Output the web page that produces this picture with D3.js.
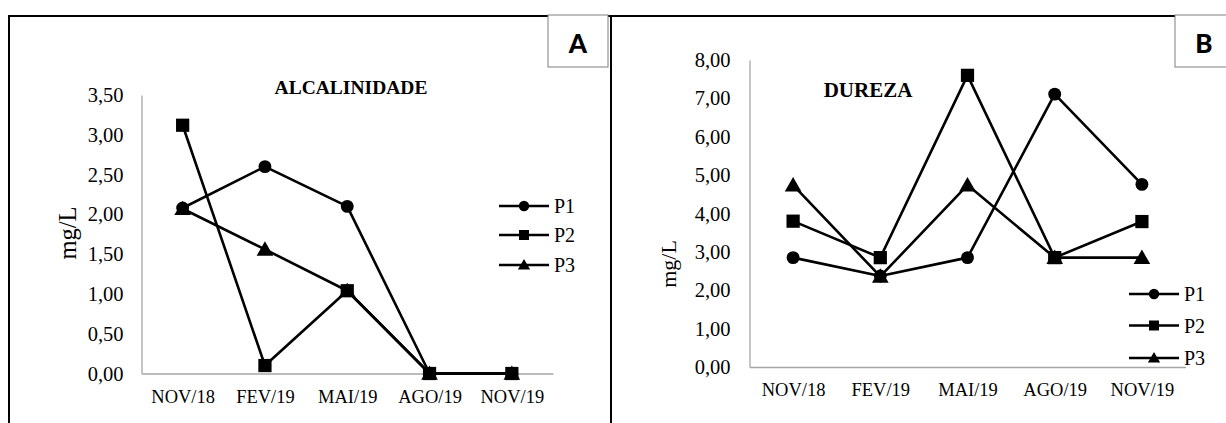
<!DOCTYPE html>
<html>
<head>
<meta charset="utf-8">
<script src="https://cdn.jsdelivr.net/npm/d3@7/dist/d3.min.js"></script>
<style>
  html, body { margin: 0; padding: 0; background: #fff; }
  svg { display: block; }
</style>
</head>
<body>
<svg id="fig" width="1226" height="423"></svg>
<script>
// Sampling campaigns
const months = ["NOV/18", "FEV/19", "MAI/19", "AGO/19", "NOV/19"];
const seriesNames = ["P1", "P2", "P3"];

// Alkalinity (mg/L) per sampling point
const alcP1 = [2.08, 2.60, 2.10, 0.00, 0.00];
const alcP2 = [3.12, 0.10, 1.04, 0.00, 0.00];
const alcP3 = [2.07, 1.56, 1.04, 0.00, 0.00];
const alcTicks = [0, 0.5, 1, 1.5, 2, 2.5, 3, 3.5];

// Hardness (mg/L) per sampling point
const durP1 = [2.85, 2.37, 2.85, 7.11, 4.76];
const durP2 = [3.80, 2.85, 7.60, 2.85, 3.79];
const durP3 = [4.74, 2.36, 4.74, 2.85, 2.85];
const durTicks = [0, 1, 2, 3, 4, 5, 6, 7, 8];

const ptBR = d3.formatLocale({ decimal: ",", thousands: ".", grouping: [3], currency: ["R$", ""] });
const fmt = ptBR.format(".2f");

const svg = d3.select("#fig");
svg.append("rect").attr("width", 1226).attr("height", 423).attr("fill", "#fff");

const serif = "'Liberation Serif', 'Times New Roman', serif";
const markerTypes = [d3.symbolCircle, d3.symbolSquare, d3.symbolTriangle];

// Figure frame
const frame = svg.append("g").attr("stroke", "#000").attr("stroke-width", 2).attr("fill", "none");
frame.append("line").attr("x1", 8).attr("x2", 1176).attr("y1", 16).attr("y2", 16);
frame.append("line").attr("x1", 9).attr("x2", 9).attr("y1", 15).attr("y2", 423);
frame.append("line").attr("x1", 611).attr("x2", 611).attr("y1", 15).attr("y2", 423);

function drawPanel(cfg) {
  const g = svg.append("g");
  const x = d3.scalePoint().domain(months).range([cfg.x0, cfg.x1]).padding(0.5);
  const y = d3.scaleLinear().domain([0, cfg.ymax]).range([cfg.yBottom, cfg.yTop]);

  // Axes
  const yAxis = g.append("g")
    .attr("transform", `translate(${cfg.x0},0)`)
    .call(d3.axisLeft(y).tickValues(cfg.ticks).tickFormat(fmt).tickSize(0).tickPadding(cfg.yPad));
  const xAxis = g.append("g")
    .attr("transform", `translate(0,${cfg.yBottom})`)
    .call(d3.axisBottom(x).tickSize(0).tickPadding(16));
  [yAxis, xAxis].forEach(a => {
    a.attr("font-size", null).attr("font-family", null);
    a.select(".domain").attr("stroke", "#a6a6a6").attr("stroke-width", 1.3);
  });
  yAxis.selectAll("text").attr("font-family", serif).attr("font-size", cfg.yTickFont).attr("fill", "#000");
  xAxis.selectAll("text").attr("font-family", serif).attr("font-size", cfg.xTickFont).attr("fill", "#000");

  // Y-axis title
  g.append("text")
    .attr("transform", `translate(${cfg.yTitleX},${cfg.yTitleY}) rotate(-90)`)
    .attr("text-anchor", "middle")
    .attr("font-family", serif).attr("font-size", cfg.yTitleFont)
    .text("mg/L");

  // Chart title
  g.append("text")
    .attr("x", cfg.titleX).attr("y", cfg.titleY)
    .attr("text-anchor", "middle")
    .attr("font-family", serif).attr("font-size", cfg.titleFont).attr("font-weight", "bold")
    .text(cfg.title);

  // Series
  const line = d3.line().x((d, i) => x(months[i])).y(d => y(d));
  cfg.series.forEach((vals, si) => {
    g.append("path").datum(vals)
      .attr("d", line)
      .attr("fill", "none").attr("stroke", "#000").attr("stroke-width", 2.6)
      .attr("stroke-linejoin", "round");
    const sizes = [130, 175, 120];
    g.selectAll(null).data(vals).enter().append("path")
      .attr("transform", (d, i) => `translate(${x(months[i])},${y(d) + (si === 2 ? 1.5 : 0)})`)
      .attr("d", d3.symbol().type(markerTypes[si]).size(sizes[si]))
      .attr("fill", "#000");
  });

  // Legend
  seriesNames.forEach((name, si) => {
    const ly = cfg.legendY[si];
    g.append("line")
      .attr("x1", cfg.legendX0).attr("x2", cfg.legendX1)
      .attr("y1", ly).attr("y2", ly)
      .attr("stroke", "#000").attr("stroke-width", 2.6);
    const lsizes = [85, 100, 65];
    g.append("path")
      .attr("transform", `translate(${(cfg.legendX0 + cfg.legendX1) / 2},${ly + (si === 2 ? 1 : 0)})`)
      .attr("d", d3.symbol().type(markerTypes[si]).size(lsizes[si]))
      .attr("fill", "#000");
    g.append("text")
      .attr("x", cfg.legendX1 + 5).attr("y", ly + 7)
      .attr("font-family", serif).attr("font-size", cfg.legendFont)
      .text(name);
  });

  // Panel letter box
  g.append("rect")
    .attr("x", cfg.boxX).attr("y", 15).attr("width", 60).attr("height", 52)
    .attr("fill", "#fff").attr("stroke", "#7f7f7f").attr("stroke-width", 1);
  g.append("text")
    .attr("x", cfg.letterX).attr("y", 53)
    .attr("text-anchor", "middle")
    .attr("font-family", "Lato, 'Liberation Sans', sans-serif").attr("font-weight", 900).attr("font-size", 26)
    .text(cfg.letter);
}

drawPanel({
  x0: 141.5, x1: 553, yBottom: 373.5, yTop: 95, ymax: 3.5, ticks: alcTicks,
  yPad: 18, yTickFont: 20.5, xTickFont: 18.5, legendFont: 20,
  yTitleX: 76, yTitleY: 233, yTitleFont: 24.5,
  title: "ALCALINIDADE", titleX: 351, titleY: 94, titleFont: 19.5,
  series: [alcP1, alcP2, alcP3],
  legendX0: 499, legendX1: 549, legendY: [206, 235, 265],
  boxX: 548, letter: "A", letterX: 578
});

drawPanel({
  x0: 749.5, x1: 1185.5, yBottom: 367, yTop: 60, ymax: 8, ticks: durTicks,
  yPad: 19, yTickFont: 20.5, xTickFont: 18.5, legendFont: 20,
  yTitleX: 676, yTitleY: 264, yTitleFont: 22,
  title: "DUREZA", titleX: 868, titleY: 96.5, titleFont: 21,
  series: [durP1, durP2, durP3],
  legendX0: 1129, legendX1: 1179, legendY: [294, 325.5, 358],
  boxX: 1175, letter: "B", letterX: 1204
});
</script>
</body>
</html>
